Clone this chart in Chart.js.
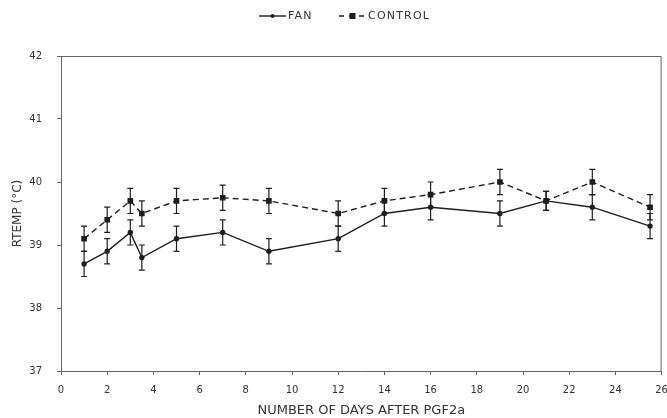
<!DOCTYPE html>
<html>
<head>
<meta charset="utf-8">
<script src="https://cdn.jsdelivr.net/npm/chart.js@4.4.1/dist/chart.umd.min.js"></script>
<style>
  html, body { margin: 0; padding: 0; background: #fff; }
  #wrap { width: 667px; height: 418px; position: relative; }
</style>
</head>
<body>
<div id="wrap"><canvas id="chart" width="667" height="418"></canvas></div>
<script>
const days = [1, 2, 3, 3.5, 5, 7, 9, 12, 14, 16, 19, 21, 23, 25.5];
const fanTemp = [38.7, 38.9, 39.2, 38.8, 39.1, 39.2, 38.9, 39.1, 39.5, 39.6, 39.5, 39.7, 39.6, 39.3];
const fanErr = [0.2, 0.2, 0.2, 0.2, 0.2, 0.2, 0.2, 0.2, 0.2, 0.2, 0.2, 0.15, 0.2, 0.2];
const controlTemp = [39.1, 39.4, 39.7, 39.5, 39.7, 39.75, 39.7, 39.5, 39.7, 39.8, 40.0, 39.7, 40.0, 39.6];
const controlErr = [0.2, 0.2, 0.2, 0.2, 0.2, 0.2, 0.2, 0.2, 0.2, 0.2, 0.2, 0.15, 0.2, 0.2];
const seriesNames = ["FAN", "CONTROL"];
const xTicks = [0, 2, 4, 6, 8, 10, 12, 14, 16, 18, 20, 22, 24, 26];
const yTicks = [37, 38, 39, 40, 41, 42];

const INK = "#1e1e1e";
const AXIS = "#666";
const FONT = "'DejaVu Sans', 'Liberation Sans', Arial, sans-serif";

const toPoints = (ys) => days.map((d, i) => ({ x: d, y: ys[i] }));

// error bars, drawn through the chart's own scales
const errorBars = {
  id: "errorBars",
  afterDatasetsDraw(chart) {
    const { ctx, scales: { x, y } } = chart;
    ctx.save();
    ctx.strokeStyle = INK;
    ctx.lineWidth = 1.2;
    chart.data.datasets.forEach(ds => {
      ds.data.forEach((p, i) => {
        const e = ds.errors[i];
        const px = x.getPixelForValue(p.x);
        const top = y.getPixelForValue(p.y + e);
        const bot = y.getPixelForValue(p.y - e);
        ctx.beginPath();
        ctx.moveTo(px, top); ctx.lineTo(px, bot);
        ctx.moveTo(px - 3, top); ctx.lineTo(px + 3, top);
        ctx.moveTo(px - 3, bot); ctx.lineTo(px + 3, bot);
        ctx.stroke();
      });
    });
    ctx.restore();
  }
};

// box round the plot (top and right edges)
const frame = {
  id: "frame",
  beforeDatasetsDraw(chart) {
    const { ctx, chartArea: a } = chart;
    ctx.save();
    ctx.strokeStyle = AXIS;
    ctx.lineWidth = 1;
    ctx.beginPath();
    ctx.moveTo(a.left, a.top + 0.5);
    ctx.lineTo(a.right - 0.5, a.top + 0.5);
    ctx.lineTo(a.right - 0.5, a.bottom);
    ctx.stroke();
    ctx.restore();
  }
};

// legend: line sample with marker, then name
const topLegend = {
  id: "topLegend",
  afterDraw(chart) {
    const { ctx } = chart;
    const cy = 16;
    const starts = [259, 339];
    ctx.save();
    ctx.font = "11px " + FONT;
    ctx.textBaseline = "middle";
    chart.data.datasets.forEach((ds, i) => {
      const x0 = starts[i];
      ctx.strokeStyle = INK;
      ctx.lineWidth = 1.4;
      ctx.setLineDash(ds.borderDash ? [5, 5] : []);
      ctx.beginPath();
      ctx.moveTo(x0, cy); ctx.lineTo(x0 + 27, cy);
      ctx.stroke();
      ctx.setLineDash([]);
      ctx.fillStyle = INK;
      if (ds.pointStyle === "rect") {
        ctx.fillRect(x0 + 10.5, cy - 3, 6, 6);
      } else {
        ctx.beginPath();
        ctx.arc(x0 + 13.5, cy, 2, 0, Math.PI * 2);
        ctx.fill();
      }
      ctx.fillStyle = "#333";
      ctx.letterSpacing = "1.2px";
      ctx.fillText(ds.label, x0 + 29, cy);
      ctx.letterSpacing = "0px";
    });
    ctx.restore();
  }
};

new Chart(document.getElementById("chart"), {
  type: "line",
  data: {
    datasets: [
      {
        label: seriesNames[0],
        data: toPoints(fanTemp),
        errors: fanErr,
        borderColor: INK,
        borderWidth: 1.4,
        pointStyle: "circle",
        pointRadius: 2,
        pointBackgroundColor: INK,
        pointBorderColor: INK,
        tension: 0
      },
      {
        label: seriesNames[1],
        data: toPoints(controlTemp),
        errors: controlErr,
        borderColor: INK,
        borderWidth: 1.4,
        borderDash: [6, 4],
        pointStyle: "rect",
        pointRadius: 3,
        pointBackgroundColor: INK,
        pointBorderColor: INK,
        tension: 0
      }
    ]
  },
  options: {
    responsive: false,
    animation: false,
    events: [],
    layout: { padding: { top: 56, right: 3, left: 11, bottom: 0 } },
    plugins: { legend: { display: false }, tooltip: { enabled: false } },
    scales: {
      x: {
        type: "linear",
        min: 0,
        max: 26,
        afterBuildTicks: (s) => { s.ticks = xTicks.map(v => ({ value: v })); },
        afterFit: (s) => { s.paddingRight = 0; s.paddingLeft = 0; s.height = 47; },
        ticks: { color: "#333", font: { family: FONT, size: 10 }, padding: 9, maxRotation: 0, autoSkip: false },
        grid: { drawOnChartArea: false, tickLength: 4, color: AXIS },
        border: { color: AXIS, width: 1 },
        title: {
          display: true,
          text: "NUMBER OF DAYS AFTER PGF2a",
          color: "#333",
          font: { family: FONT, size: 13 },
          padding: { top: 3, bottom: 0 }
        }
      },
      y: {
        min: 37,
        max: 42,
        afterBuildTicks: (s) => { s.ticks = yTicks.map(v => ({ value: v })); },
        afterFit: (s) => { s.width = 50; },
        ticks: { color: "#333", font: { family: FONT, size: 10 }, padding: 15 },
        grid: { drawOnChartArea: false, tickLength: 4, color: AXIS },
        border: { color: AXIS, width: 1 },
        title: {
          display: true,
          text: "RTEMP (°C)",
          color: "#333",
          font: { family: FONT, size: 12 },
          padding: { top: 0, bottom: 0 }
        }
      }
    }
  },
  plugins: [frame, errorBars, topLegend]
});
</script>
</body>
</html>
